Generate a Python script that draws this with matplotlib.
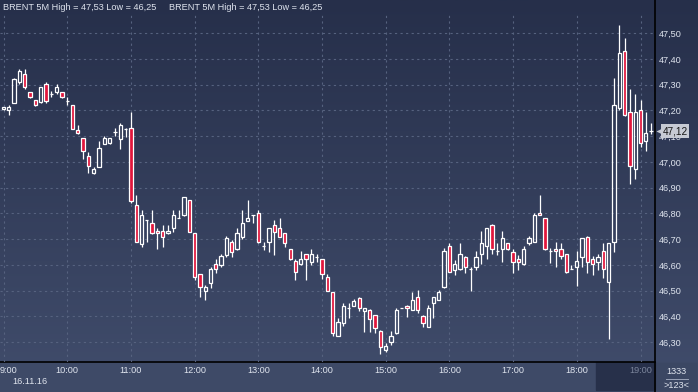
import matplotlib
matplotlib.use('Agg')
import matplotlib.pyplot as plt
import numpy as np
from matplotlib.colors import LinearSegmentedColormap
from matplotlib.patches import Rectangle
from matplotlib.ticker import FuncFormatter
from matplotlib.transforms import offset_copy

plt.rcParams['font.family'] = ['Liberation Sans', 'DejaVu Sans']

# ── data: BRENT 5-minute candles, 16.11.16, 9:00 .. 19:10 ───────────────
opens = [
    47.205, 47.202, 47.230, 47.310, 47.342, 47.271, 47.240, 47.232, 47.303, 47.264,
    47.271, 47.271, 47.238, 47.220, 47.124, 47.092, 47.023, 46.958, 46.982, 47.070,
    47.073, 47.116, 47.090, 47.127, 47.131, 46.832, 46.680, 46.774, 46.762, 46.732,
    46.732, 46.723, 46.742, 46.781, 46.793, 46.852, 46.723, 46.564, 46.500, 46.531,
    46.603, 46.601, 46.638, 46.690, 46.661, 46.710, 46.772, 46.794, 46.800, 46.673,
    46.690, 46.755, 46.742, 46.723, 46.661, 46.615, 46.602, 46.641, 46.612, 46.632,
    46.622, 46.552, 46.493, 46.324, 46.373, 46.431, 46.441, 46.472, 46.422, 46.425,
    46.405, 46.343, 46.269, 46.301, 46.334, 46.431, 46.441, 46.425, 46.474, 46.402,
    46.360, 46.451, 46.464, 46.513, 46.673, 46.580, 46.583, 46.632, 46.585, 46.591,
    46.642, 46.673, 46.755, 46.653, 46.661, 46.684, 46.651, 46.623, 46.603, 46.684,
    46.690, 46.800, 46.781, 46.655, 46.662, 46.661, 46.641, 46.583, 46.591, 46.632,
    46.710, 46.622, 46.612, 46.654, 46.532, 46.690, 47.211, 47.431, 47.193, 46.973,
    47.202, 47.081, 47.121,
]
highs = [
    47.212, 47.221, 47.325, 47.360, 47.361, 47.273, 47.242, 47.292, 47.311, 47.275,
    47.303, 47.273, 47.251, 47.222, 47.142, 47.094, 47.040, 46.979, 47.083, 47.100,
    47.095, 47.131, 47.153, 47.131, 47.195, 46.872, 46.813, 46.774, 46.813, 46.742,
    46.755, 46.755, 46.813, 46.813, 46.865, 46.854, 46.725, 46.566, 46.522, 46.593,
    46.622, 46.642, 46.712, 46.697, 46.742, 46.813, 46.852, 46.794, 46.813, 46.690,
    46.744, 46.774, 46.781, 46.725, 46.663, 46.623, 46.655, 46.643, 46.662, 46.642,
    46.624, 46.563, 46.495, 46.392, 46.451, 46.451, 46.467, 46.474, 46.433, 46.427,
    46.407, 46.345, 46.295, 46.343, 46.434, 46.431, 46.443, 46.496, 46.502, 46.404,
    46.444, 46.476, 46.502, 46.664, 46.686, 46.619, 46.686, 46.634, 46.590, 46.655,
    46.733, 46.744, 46.757, 46.684, 46.733, 46.686, 46.661, 46.638, 46.673, 46.712,
    46.800, 46.872, 46.783, 46.664, 46.690, 46.684, 46.643, 46.600, 46.654, 46.705,
    46.712, 46.634, 46.642, 46.686, 46.686, 47.325, 47.532, 47.483, 47.284, 47.263,
    47.241, 47.193, 47.150,
]
lows = [
    47.200, 47.182, 47.228, 47.302, 47.282, 47.249, 47.218, 47.230, 47.230, 47.251,
    47.264, 47.249, 47.220, 47.127, 47.109, 47.010, 46.958, 46.953, 46.980, 47.068,
    47.070, 47.101, 47.052, 47.098, 46.842, 46.688, 46.671, 46.690, 46.721, 46.661,
    46.671, 46.721, 46.729, 46.781, 46.791, 46.727, 46.541, 46.474, 46.463, 46.509,
    46.570, 46.591, 46.629, 46.632, 46.659, 46.700, 46.770, 46.762, 46.684, 46.658,
    46.651, 46.638, 46.708, 46.671, 46.620, 46.541, 46.600, 46.541, 46.600, 46.612,
    46.544, 46.498, 46.324, 46.322, 46.362, 46.392, 46.439, 46.422, 46.340, 46.340,
    46.334, 46.254, 46.263, 46.289, 46.332, 46.431, 46.398, 46.423, 46.412, 46.360,
    46.358, 46.392, 46.462, 46.511, 46.571, 46.561, 46.581, 46.570, 46.500, 46.580,
    46.603, 46.622, 46.642, 46.638, 46.612, 46.659, 46.570, 46.580, 46.601, 46.677,
    46.688, 46.792, 46.659, 46.606, 46.590, 46.622, 46.569, 46.583, 46.518, 46.590,
    46.570, 46.561, 46.580, 46.550, 46.311, 46.651, 47.200, 47.180, 46.913, 46.934,
    47.060, 47.043, 47.108,
]
closes = [
    47.212, 47.212, 47.321, 47.353, 47.290, 47.251, 47.220, 47.290, 47.238, 47.265,
    47.290, 47.251, 47.238, 47.129, 47.111, 47.043, 46.984, 46.973, 47.053, 47.092,
    47.092, 47.116, 47.144, 47.127, 46.849, 46.690, 46.793, 46.774, 46.723, 46.723,
    46.710, 46.732, 46.793, 46.781, 46.863, 46.729, 46.552, 46.513, 46.513, 46.583,
    46.583, 46.635, 46.703, 46.651, 46.723, 46.762, 46.781, 46.794, 46.690, 46.673,
    46.742, 46.729, 46.710, 46.684, 46.622, 46.571, 46.622, 46.622, 46.641, 46.632,
    46.563, 46.500, 46.334, 46.379, 46.441, 46.431, 46.461, 46.431, 46.431, 46.391,
    46.353, 46.282, 46.285, 46.324, 46.425, 46.431, 46.431, 46.464, 46.425, 46.373,
    46.431, 46.474, 46.496, 46.654, 46.571, 46.602, 46.642, 46.591, 46.585, 46.632,
    46.684, 46.742, 46.661, 46.653, 46.703, 46.661, 46.612, 46.612, 46.661, 46.703,
    46.794, 46.794, 46.661, 46.655, 46.653, 46.635, 46.571, 46.583, 46.614, 46.703,
    46.612, 46.602, 46.632, 46.583, 46.684, 47.221, 47.422, 47.182, 46.985, 47.193,
    47.075, 47.111, 47.121,
]
hour_labels = ['9:00', '10:00', '11:00', '12:00', '13:00', '14:00',
               '15:00', '16:00', '17:00', '18:00', '19:00']
price_ticks = [46.3, 46.4, 46.5, 46.6, 46.7, 46.8, 46.9,
               47.0, 47.1, 47.2, 47.3, 47.4, 47.5]
title = 'BRENT 5M High = 47,53 Low = 46,25'
date_label = '16.11.16'
last_price = 47.12

W, H = 698, 392
BG_TOP, BG_BOT = '#262f4a', '#414d6c'
RED = '#e1163c'
TXT = '#dfe4ee'


def comma(v, pos=None):
    return f'{v:.2f}'.replace('.', ',')


fig = plt.figure(figsize=(W / 100, H / 100), dpi=100)

# background gradient over the whole figure
bg = fig.add_axes([0, 0, 1, 1])
bg.axis('off')
grad = np.linspace(0, 1, 256).reshape(-1, 1)
bg.imshow(grad, aspect='auto', extent=[0, 1, 0, 1],
          cmap=LinearSegmentedColormap.from_list('bg', [BG_TOP, BG_BOT]))
bg.set_xlim(0, 1)
bg.set_ylim(0, 1)
# bottom time strip, darker "future" block, counter box
bg.add_patch(Rectangle((0, 0), 1, 30 / H, color='#3e4a67', zorder=2))
bg.add_patch(Rectangle((596 / W, 2 / H), 59 / W, 28 / H, color='#27304a', zorder=3))
bg.add_patch(Rectangle((657 / W, 2 / H), 39 / W, 27 / H, color='#3b4763', zorder=3))
bg.plot([0, 655 / W], [30 / H, 30 / H], color='black', lw=1.2, zorder=4)
bg.plot([655 / W, 655 / W], [0, 1], color='black', lw=1.2, zorder=4)
bg.plot([666 / W, 688 / W], [1 - 378.5 / H, 1 - 378.5 / H], color='#9aa3b8', lw=0.7, zorder=5)

# ── main price axes ──────────────────────────────────────────────────────
x_left, x_right = 0, 655
y_top, y_bot = 14, 362
ax = fig.add_axes([x_left / W, (H - y_bot) / H, (x_right - x_left) / W, (y_bot - y_top) / H])
ax.set_facecolor('none')
for s in ax.spines.values():
    s.set_visible(False)

px_per_c = 63.7 / 12
px_per_unit = 257.3
ax.set_xlim(-3.5 / px_per_c, -3.5 / px_per_c + (x_right - x_left) / px_per_c)
ax.set_ylim(47.5 - (y_bot - 33.3) / px_per_unit, 47.5 + (33.3 - y_top) / px_per_unit)

ax.set_yticks(price_ticks)
ax.yaxis.tick_right()
ax.yaxis.set_major_formatter(FuncFormatter(comma))
ax.tick_params(axis='y', length=0, pad=3, labelsize=6.6, labelcolor=TXT)

ax.set_xticks(np.arange(len(hour_labels)) * 12)
ax.set_xticklabels(hour_labels)
ax.tick_params(axis='x', length=0, pad=3, labelsize=6.6, labelcolor=TXT)
xlabels = ax.get_xticklabels()
xlabels[-1].set_color('#7b859c')
# first label is clipped at the left edge, shift it like the terminal does
xlabels[0].set_transform(offset_copy(xlabels[0].get_transform(), fig=fig, x=5, units='dots'))

ax.grid(True, color='#56627f', lw=0.8, linestyle=(0, (2, 3)))
ax.set_axisbelow(True)

bw = 0.62
for i, (o, h, l, c) in enumerate(zip(opens, highs, lows, closes)):
    top, bot = max(o, c), min(o, c)
    ax.vlines(i, top, h, color='white', lw=0.9, zorder=3)
    ax.vlines(i, l, bot, color='white', lw=0.9, zorder=3)
    if abs(c - o) < 0.004:
        ax.hlines(c, i - bw / 2, i + bw / 2, color='white', lw=0.9, zorder=4)
    else:
        face = RED if c < o else 'none'
        ax.add_patch(Rectangle((i - bw / 2, bot), bw, top - bot, facecolor=face,
                               edgecolor='white', lw=0.9, zorder=4))

# last price marker on the right scale
ytr = ax.get_yaxis_transform()
ax.text(1.0115, last_price, comma(last_price), transform=ytr, ha='left', va='center',
        fontsize=7.2, color='#151515', zorder=6, clip_on=False,
        bbox=dict(boxstyle='square,pad=0.18', fc='#c7cbd4', ec='none'))
ax.plot([1.006], [last_price], transform=ytr, marker='<', ms=5, color='#c7cbd4',
        mec='none', clip_on=False, zorder=6)

# texts
for xp in (3, 169):
    fig.text(xp / W, 1 - 8 / H, title, fontsize=6.6, color=TXT, va='center', ha='left')
fig.text(12 / W, 1 - 382 / H, date_label, fontsize=6.6, color=TXT, va='center', ha='left')
fig.text(676 / W, 1 - 372 / H, '1333', fontsize=6.6, color=TXT, va='center', ha='center')
fig.text(676 / W, 1 - 385 / H, '>123<', fontsize=6.6, color=TXT, va='center', ha='center')

fig.savefig('out.png', dpi=100)
